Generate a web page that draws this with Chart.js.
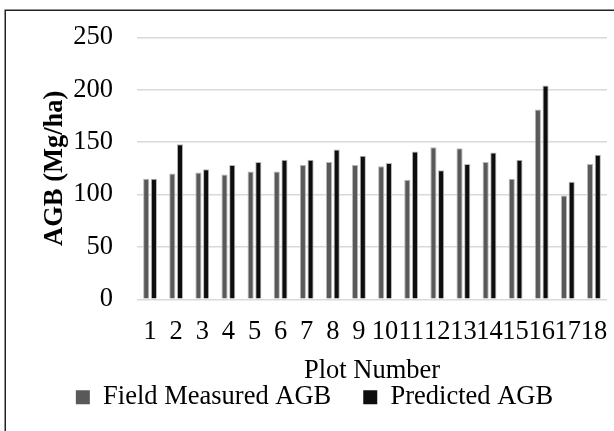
<!DOCTYPE html>
<html>
<head>
<meta charset="utf-8">
<script src="https://cdn.jsdelivr.net/npm/chart.js@4"></script>
<style>
html,body{margin:0;padding:0;background:#fff;}
#wrap{width:614px;height:431px;position:relative;}
</style>
</head>
<body>
<div id="wrap"><canvas id="c" width="614" height="431"></canvas></div>
<script>
const categories = ['1','2','3','4','5','6','7','8','9','10','11','12','13','14','15','16','17','18'];
const fieldMeasured = [115,120,121,119,122,122,128,131,128,127,114,145,144,131,115,181,99,129];
const predicted = [115,148,124,128,131,133,133,143,137,130,141,123,129,140,133,204,112,138];
const yTicks = [0,50,100,150,200,250];

const FONT = "'Liberation Serif','Times New Roman',serif";
const FS = 26.5;

const framePlugin = {
  id: 'frame',
  afterLayout(chart) {
    if (chart.legend) { chart.legend.left += 11; chart.legend.right += 11; }
  },
  beforeDraw(chart) {
    const ctx = chart.ctx;
    ctx.save();
    ctx.fillStyle = '#fff';
    ctx.fillRect(0, 0, chart.width, chart.height);
    ctx.strokeStyle = '#222';
    ctx.lineWidth = 1.5;
    ctx.strokeRect(5.25, 10.25, 620, 440);
    ctx.restore();
  }
};

new Chart(document.getElementById('c'), {
  type: 'bar',
  data: {
    labels: categories,
    datasets: [
      { label: 'Field Measured AGB', data: fieldMeasured, backgroundColor: '#595959', borderColor: '#b8b8b8', borderWidth: 1, borderSkipped: 'bottom' },
      { label: 'Predicted AGB', data: predicted, backgroundColor: '#0d0d0d', borderColor: '#b8b8b8', borderWidth: 1, borderSkipped: 'bottom' }
    ]
  },
  options: {
    responsive: false,
    animation: false,
    devicePixelRatio: 1,
    datasets: { bar: { categoryPercentage: 0.59, barPercentage: 0.8 } },
    layout: { padding: { top: 24.25, right: 7, bottom: 10.5, left: 0 } },
    plugins: {
      legend: {
        position: 'bottom',
        labels: {
          font: { family: FONT, size: FS, lineHeight: 1 },
          color: '#000',
          boxWidth: 14,
          boxHeight: 14,
          padding: 32,
          generateLabels(chart) {
            const items = Chart.defaults.plugins.legend.labels.generateLabels(chart);
            items.forEach(it => { it.lineWidth = 0; it.strokeStyle = 'rgba(0,0,0,0)'; });
            return items;
          }
        }
      },
      tooltip: { enabled: false }
    },
    scales: {
      x: {
        afterFit(scale) { scale.height = 52.75; scale.paddingLeft = 0; scale.paddingRight = 0; },
        grid: { display: false, drawTicks: false },
        border: { display: false },
        ticks: {
          autoSkip: false, maxRotation: 0, minRotation: 0,
          font: { family: FONT, size: FS, lineHeight: 1 }, color: '#000', padding: 19.75
        },
        title: {
          display: true, text: 'Plot Number',
          font: { family: FONT, size: FS, lineHeight: 1 }, color: '#000',
          padding: { top: 0, bottom: -32.5 }
        }
      },
      y: {
        min: 0, max: 250,
        afterBuildTicks(scale) { scale.ticks = yTicks.map(v => ({ value: v })); },
        afterFit(scale) { scale.width = 137; },
        grid: { color: '#d9d9d9', lineWidth: 1.4, drawTicks: false },
        border: { display: false },
        ticks: {
          font: { family: FONT, size: FS, lineHeight: 1 }, color: '#000', padding: 24
        },
        title: {
          display: true, text: 'AGB (Mg/ha)',
          font: { family: FONT, size: FS, weight: 'bold', lineHeight: 1 }, color: '#000',
          padding: { top: 41.5, bottom: 0 }
        }
      }
    }
  },
  plugins: [framePlugin]
});
</script>
</body>
</html>
